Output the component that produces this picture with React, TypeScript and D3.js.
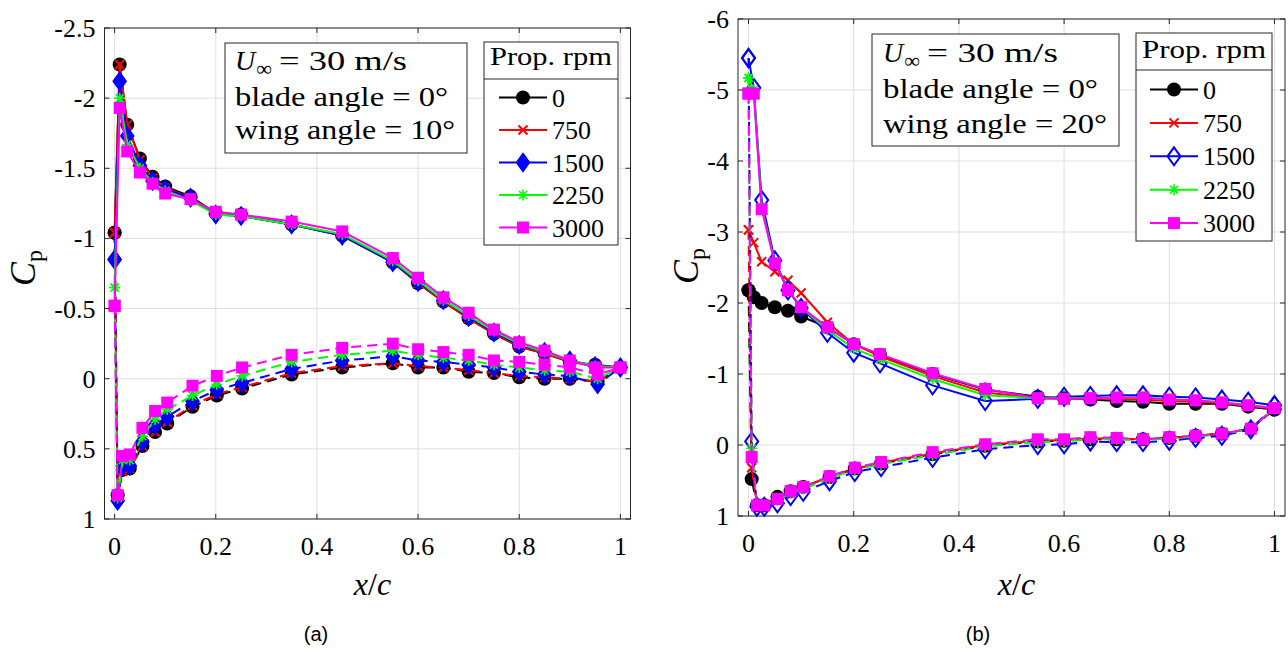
import * as d3 from "d3";

// chordwise tap positions
const xUpper = [0, 0.01, 0.025, 0.05, 0.075, 0.1, 0.15, 0.2, 0.25, 0.35, 0.45, 0.55, 0.6, 0.65, 0.7, 0.75, 0.8, 0.85, 0.9, 0.95, 1];
const xLower = [0.006, 0.016, 0.03, 0.055, 0.08, 0.104, 0.154, 0.202, 0.252, 0.35, 0.45, 0.55, 0.6, 0.65, 0.7, 0.75, 0.8, 0.85, 0.9, 0.955];

const rpmLabels = ["0", "750", "1500", "2250", "3000"];
const seriesColors = ["#000000", "#ff0000", "#0000ff", "#00ff00", "#ff00ff"];
const markerKinds = ["circle", "cross", "diamond", "asterisk", "square"];

const xTicks = [0, 0.2, 0.4, 0.6, 0.8, 1];
const yTicks10 = [-2.5, -2, -1.5, -1, -0.5, 0, 0.5, 1];
const yTicks20 = [-6, -5, -4, -3, -2, -1, 0, 1];

// wing angle 10 deg, upper surface
const up10_0 = [-1.04, -2.24, -1.81, -1.57, -1.44, -1.37, -1.3, -1.18, -1.17, -1.1, -1.02, -0.83, -0.68, -0.55, -0.43, -0.32, -0.23, -0.18, -0.12, -0.1, -0.08];
const up10_750 = [-1.04, -2.24, -1.81, -1.56, -1.43, -1.36, -1.29, -1.18, -1.16, -1.1, -1.02, -0.83, -0.68, -0.55, -0.43, -0.32, -0.23, -0.18, -0.12, -0.09, -0.08];
const up10_1500 = [-0.85, -2.12, -1.73, -1.52, -1.41, -1.35, -1.29, -1.17, -1.16, -1.1, -1.02, -0.83, -0.69, -0.56, -0.44, -0.33, -0.24, -0.19, -0.13, -0.09, -0.08];
const up10_2250 = [-0.65, -2.0, -1.67, -1.5, -1.4, -1.34, -1.27, -1.17, -1.16, -1.1, -1.03, -0.84, -0.7, -0.56, -0.45, -0.34, -0.25, -0.19, -0.13, -0.09, -0.08];
const up10_3000 = [-0.52, -1.93, -1.62, -1.47, -1.39, -1.32, -1.28, -1.19, -1.17, -1.12, -1.05, -0.86, -0.72, -0.58, -0.47, -0.35, -0.26, -0.2, -0.13, -0.08, -0.08];

// wing angle 10 deg, lower surface
const lo10_0 = [0.83, 0.65, 0.64, 0.48, 0.38, 0.32, 0.2, 0.12, 0.07, -0.03, -0.08, -0.11, -0.08, -0.08, -0.05, -0.04, -0.01, 0.0, 0.0, 0.02];
const lo10_750 = [0.84, 0.66, 0.64, 0.48, 0.38, 0.31, 0.19, 0.11, 0.06, -0.04, -0.09, -0.11, -0.09, -0.08, -0.06, -0.04, -0.02, -0.01, 0.0, 0.02];
const lo10_1500 = [0.87, 0.62, 0.62, 0.45, 0.33, 0.27, 0.16, 0.08, 0.03, -0.07, -0.13, -0.16, -0.13, -0.12, -0.1, -0.08, -0.05, -0.03, -0.02, 0.04];
const lo10_2250 = [0.85, 0.58, 0.58, 0.41, 0.29, 0.22, 0.12, 0.04, -0.02, -0.12, -0.17, -0.2, -0.17, -0.15, -0.13, -0.1, -0.08, -0.06, -0.05, 0.0];
const lo10_3000 = [0.83, 0.55, 0.54, 0.35, 0.23, 0.17, 0.05, -0.02, -0.08, -0.17, -0.22, -0.25, -0.21, -0.19, -0.17, -0.13, -0.12, -0.1, -0.08, -0.03];

// wing angle 20 deg, upper surface
const up20_0 = [-2.18, -2.08, -2.0, -1.94, -1.89, -1.81, -1.66, -1.42, -1.27, -1.0, -0.78, -0.68, -0.66, -0.64, -0.62, -0.61, -0.58, -0.58, -0.58, -0.54, -0.5];
const up20_750 = [-3.03, -2.85, -2.58, -2.44, -2.32, -2.14, -1.73, -1.42, -1.25, -0.97, -0.74, -0.66, -0.65, -0.65, -0.65, -0.64, -0.62, -0.61, -0.59, -0.55, -0.51];
const up20_1500 = [-5.45, -5.03, -3.45, -2.6, -2.18, -1.93, -1.58, -1.3, -1.15, -0.84, -0.62, -0.65, -0.68, -0.69, -0.7, -0.7, -0.68, -0.67, -0.64, -0.61, -0.56];
const up20_2250 = [-5.17, -5.0, -3.35, -2.57, -2.18, -1.94, -1.62, -1.36, -1.21, -0.93, -0.7, -0.66, -0.66, -0.66, -0.67, -0.67, -0.64, -0.63, -0.6, -0.56, -0.52];
const up20_3000 = [-4.95, -4.95, -3.32, -2.56, -2.18, -1.94, -1.66, -1.42, -1.28, -1.01, -0.79, -0.66, -0.65, -0.66, -0.67, -0.67, -0.64, -0.63, -0.6, -0.56, -0.52];

// wing angle 20 deg, lower surface
const lo20_0 = [0.48, 0.85, 0.85, 0.73, 0.65, 0.59, 0.45, 0.33, 0.26, 0.13, 0.01, -0.05, -0.06, -0.08, -0.08, -0.08, -0.1, -0.13, -0.16, -0.23];
const lo20_750 = [0.32, 0.85, 0.85, 0.75, 0.65, 0.59, 0.45, 0.34, 0.25, 0.12, 0.0, -0.06, -0.07, -0.09, -0.09, -0.08, -0.1, -0.13, -0.16, -0.23];
const lo20_1500 = [-0.05, 0.87, 0.87, 0.82, 0.72, 0.66, 0.51, 0.38, 0.31, 0.18, 0.06, 0.0, -0.01, -0.05, -0.04, -0.04, -0.06, -0.1, -0.13, -0.22];
const lo20_2250 = [0.05, 0.85, 0.85, 0.78, 0.68, 0.62, 0.47, 0.35, 0.27, 0.14, 0.02, -0.04, -0.05, -0.08, -0.08, -0.07, -0.09, -0.12, -0.15, -0.23];
const lo20_3000 = [0.17, 0.85, 0.85, 0.76, 0.65, 0.59, 0.44, 0.32, 0.24, 0.1, -0.01, -0.08, -0.08, -0.11, -0.1, -0.08, -0.11, -0.13, -0.16, -0.23];

const serif = { fontFamily: "Liberation Serif, DejaVu Serif, serif" };
const AXIS = "#262626";

function Marker({ kind, x, y, color, open }) {
  if (kind === "circle") return <circle cx={x} cy={y} r={7} fill={color} />;
  if (kind === "cross")
    return (
      <path
        d={`M${x - 4.5},${y - 4.5}L${x + 4.5},${y + 4.5}M${x - 4.5},${y + 4.5}L${x + 4.5},${y - 4.5}`}
        stroke={color}
        strokeWidth={2}
        fill="none"
      />
    );
  if (kind === "diamond")
    return (
      <path
        d={`M${x},${y - 9}L${x + 6.5},${y}L${x},${y + 9}L${x - 6.5},${y}Z`}
        fill={open ? "none" : color}
        stroke={color}
        strokeWidth={open ? 2 : 1.5}
      />
    );
  if (kind === "asterisk") {
    const s = 5.5;
    const d = s * 0.72;
    return (
      <path
        d={`M${x - s},${y}L${x + s},${y}M${x},${y - s}L${x},${y + s}M${x - d},${y - d}L${x + d},${y + d}M${x - d},${y + d}L${x + d},${y - d}`}
        stroke={color}
        strokeWidth={1.6}
        fill="none"
      />
    );
  }
  return <rect x={x - 6} y={y - 6} width={12} height={12} fill={color} />;
}

function Panel({ p }) {
  const x = d3.scaleLinear().domain([-0.02, 1.02]).range([p.left, p.right]);
  const y = d3.scaleLinear().domain(p.yDomain).range([p.top, p.bottom]);
  const line = d3
    .line<number[]>()
    .x((d) => x(d[0]))
    .y((d) => y(d[1]));

  const series = p.upper.map((up, i) => {
    const lo = p.lower[i];
    const upperPts = xUpper.map((xv, j) => [xv, up[j]]);
    const lowerPts = [
      [xUpper[0], up[0]],
      ...xLower.map((xv, j) => [xv, lo[j]]),
      [xUpper[xUpper.length - 1], up[up.length - 1]],
    ];
    return { i, upperPts, lowerPts };
  });

  const tick = 5;
  const midX = (p.left + p.right) / 2;

  return (
    <g>
      {/* grid */}
      {xTicks.map((t) => (
        <line key={"gx" + t} x1={x(t)} x2={x(t)} y1={p.top} y2={p.bottom} stroke="#dfdfdf" strokeWidth={1} />
      ))}
      {p.yTicks.map((t) => (
        <line key={"gy" + t} x1={p.left} x2={p.right} y1={y(t)} y2={y(t)} stroke="#dfdfdf" strokeWidth={1} />
      ))}

      {/* data */}
      {series.map((s) => (
        <g key={"s" + s.i}>
          <path d={line(s.upperPts)} fill="none" stroke={seriesColors[s.i]} strokeWidth={2} />
          {s.upperPts.map((d, j) => (
            <Marker key={"u" + j} kind={markerKinds[s.i]} x={x(d[0])} y={y(d[1])} color={seriesColors[s.i]} open={p.openDiamond} />
          ))}
          <path d={line(s.lowerPts)} fill="none" stroke={seriesColors[s.i]} strokeWidth={2} strokeDasharray="10,6" />
          {s.lowerPts.map((d, j) => (
            <Marker key={"l" + j} kind={markerKinds[s.i]} x={x(d[0])} y={y(d[1])} color={seriesColors[s.i]} open={p.openDiamond} />
          ))}
        </g>
      ))}

      {/* axes box and ticks */}
      <rect x={p.left} y={p.top} width={p.right - p.left} height={p.bottom - p.top} fill="none" stroke={AXIS} strokeWidth={1} />
      {xTicks.map((t) => (
        <g key={"tx" + t}>
          <line x1={x(t)} x2={x(t)} y1={p.bottom} y2={p.bottom - tick} stroke={AXIS} />
          <line x1={x(t)} x2={x(t)} y1={p.top} y2={p.top + tick} stroke={AXIS} />
          <text x={x(t)} y={p.bottom + 36} textAnchor="middle" style={serif} fontSize={26} fill="#000">
            {String(t)}
          </text>
        </g>
      ))}
      {p.yTicks.map((t) => (
        <g key={"ty" + t}>
          <line x1={p.left} x2={p.left + tick} y1={y(t)} y2={y(t)} stroke={AXIS} />
          <line x1={p.right} x2={p.right - tick} y1={y(t)} y2={y(t)} stroke={AXIS} />
          <text x={p.left - 9} y={y(t) + 9} textAnchor="end" style={serif} fontSize={26} fill="#000">
            {String(t)}
          </text>
        </g>
      ))}

      {/* axis labels */}
      <text x={midX + 5} y={595} textAnchor="middle" style={serif} fontSize={32} fill="#000">
        <tspan fontStyle="italic">x</tspan>
        <tspan>/</tspan>
        <tspan fontStyle="italic">c</tspan>
      </text>
      <text
        transform={`translate(${p.yLabelX},${p.yLabelY}) rotate(-90)`}
        textAnchor="middle"
        style={serif}
        fontSize={36}
        fill="#000"
      >
        <tspan fontStyle="italic">C</tspan>
        <tspan fontSize={24} dy={7}>p</tspan>
      </text>

      {/* annotation box */}
      <rect x={p.note.x0} y={p.note.y0} width={p.note.x1 - p.note.x0} height={p.note.y1 - p.note.y0} fill="#fff" stroke={AXIS} strokeWidth={1} />
      <text x={p.note.tx} y={p.note.b[0]} style={serif} fontSize={28} fill="#000">
        <tspan fontStyle="italic">U</tspan>
        <tspan fontSize={22} dx={1} dy={6}>∞</tspan>
      </text>
      <text x={p.note.tx + 44} y={p.note.b[0]} style={serif} fontSize={28} fill="#000" textLength={p.note.w[0] - 44} lengthAdjust="spacingAndGlyphs">
        = 30 m/s
      </text>
      <text x={p.note.tx} y={p.note.b[1]} style={serif} fontSize={28} fill="#000" textLength={p.note.w[1]} lengthAdjust="spacingAndGlyphs">
        {"blade angle = 0°"}
      </text>
      <text x={p.note.tx} y={p.note.b[2]} style={serif} fontSize={28} fill="#000" textLength={p.note.w[2]} lengthAdjust="spacingAndGlyphs">
        {`wing angle = ${p.wingAngle}°`}
      </text>

      {/* legend */}
      <rect x={p.leg.x0} y={p.leg.y0} width={p.leg.x1 - p.leg.x0} height={p.leg.y1 - p.leg.y0} fill="#fff" stroke={AXIS} strokeWidth={1} />
      <line x1={p.leg.x0} x2={p.leg.x1} y1={p.leg.sep} y2={p.leg.sep} stroke={AXIS} strokeWidth={1} />
      <text
        x={(p.leg.x0 + p.leg.x1) / 2}
        y={p.leg.titleY}
        textAnchor="middle"
        style={serif}
        fontSize={26}
        fill="#000"
        textLength={p.leg.x1 - p.leg.x0 - 12}
        lengthAdjust="spacingAndGlyphs"
      >
        Prop. rpm
      </text>
      {rpmLabels.map((lab, i) => {
        const cy = p.leg.first + i * p.leg.step;
        return (
          <g key={"lg" + lab}>
            <line x1={p.leg.lx0} x2={p.leg.lx0 + 48} y1={cy} y2={cy} stroke={seriesColors[i]} strokeWidth={2} />
            <Marker kind={markerKinds[i]} x={p.leg.lx0 + 24} y={cy} color={seriesColors[i]} open={p.openDiamond} />
            <text x={p.leg.lx0 + 53} y={cy + 9} style={serif} fontSize={26} fill="#000">
              {lab}
            </text>
          </g>
        );
      })}

      {/* caption */}
      <text x={p.capX} y={641} textAnchor="middle" style={{ fontFamily: "Liberation Sans, Arial, sans-serif" }} fontSize={20} fill="#000">
        {p.caption}
      </text>
    </g>
  );
}

const panelA = {
  left: 104.5,
  right: 630.5,
  top: 28,
  bottom: 519,
  yDomain: [-2.5, 1],
  yTicks: yTicks10,
  upper: [up10_0, up10_750, up10_1500, up10_2250, up10_3000],
  lower: [lo10_0, lo10_750, lo10_1500, lo10_2250, lo10_3000],
  openDiamond: false,
  wingAngle: 10,
  yLabelX: 35,
  yLabelY: 268,
  note: { x0: 225, x1: 467, y0: 43, y1: 153, tx: 235, b: [70, 106, 139], w: [172, 213, 220] },
  leg: { x0: 484, x1: 618, y0: 42, y1: 245, sep: 79, titleY: 65, first: 97.5, step: 32.5, lx0: 499 },
  caption: "(a)",
  capX: 316,
};

const panelB = {
  left: 738,
  right: 1285,
  top: 19,
  bottom: 516,
  yDomain: [-6, 1],
  yTicks: yTicks20,
  upper: [up20_0, up20_750, up20_1500, up20_2250, up20_3000],
  lower: [lo20_0, lo20_750, lo20_1500, lo20_2250, lo20_3000],
  openDiamond: true,
  wingAngle: 20,
  yLabelX: 698,
  yLabelY: 266,
  note: { x0: 872, x1: 1119, y0: 34, y1: 146, tx: 883, b: [62, 98, 133], w: [175, 215, 224] },
  leg: { x0: 1136, x1: 1272, y0: 33, y1: 241, sep: 70, titleY: 58, first: 89.5, step: 33.4, lx0: 1150 },
  caption: "(b)",
  capX: 978,
};

export default function App() {
  return (
    <div style={{ position: "fixed", left: 0, top: 0, background: "#fff" }}>
      <svg width={1288} height={650} style={{ display: "block" }}>
        <rect width={1288} height={650} fill="#fff" />
        <Panel p={panelA} />
        <Panel p={panelB} />
      </svg>
    </div>
  );
}
